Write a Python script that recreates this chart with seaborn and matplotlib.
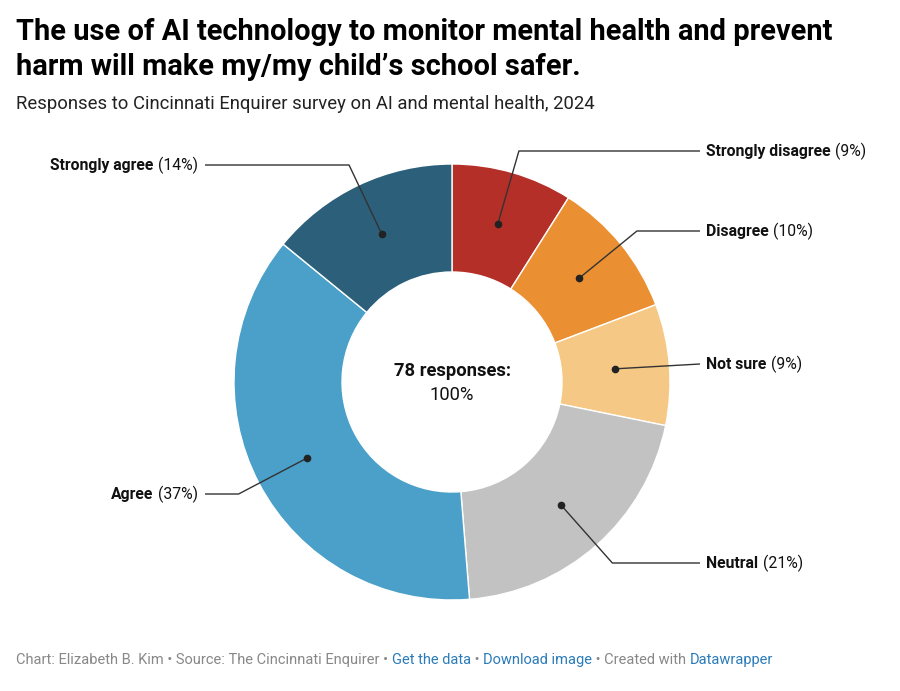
import numpy as np
import matplotlib
matplotlib.use("Agg")
import matplotlib.pyplot as plt
import seaborn as sns

# ---- data ----
categories = ["Strongly disagree", "Disagree", "Not sure", "Neutral", "Agree", "Strongly agree"]
counts = [7, 8, 7, 16, 29, 11]
pct_labels = ["9%", "10%", "9%", "21%", "37%", "14%"]
total_responses = 78

# ---- style ----
colors = ["#b42f28", "#eb9032", "#f5c985", "#c2c2c2", "#4aa0c9", "#2c5f7a"]
sides = ["right", "right", "right", "right", "left", "left"]
label_y = [151, 231, 364, 563, 494, 165]  # pixel rows of the labels (layout)

sns.set_theme(style="white")
plt.rcParams["font.family"] = ["Roboto", "DejaVu Sans"]

W, H = 900, 691
fig = plt.figure(figsize=(W / 100, H / 100), dpi=100)
ax = fig.add_axes([0, 0, 1, 1])

cx, cy = 452, H - 382
R_out, R_in = 218, 110

ax.pie(counts, colors=colors, startangle=90, counterclock=False,
       center=(cx, cy), radius=R_out, frame=True,
       wedgeprops=dict(width=R_out - R_in, edgecolor="white", linewidth=1.0))
ax.set_xlim(0, W)
ax.set_ylim(0, H)
ax.set_aspect("equal")
ax.axis("off")

frac = np.array(counts) / np.sum(counts)
cum = np.cumsum(frac)
mid = cum - frac / 2
r_mid = (R_out + R_in) / 2

LFS = 11.3
GAP = 4.5
line_col = "#333333"
fig.canvas.draw()
renderer = fig.canvas.get_renderer()
for i, cat in enumerate(categories):
    ang = mid[i] * 2 * np.pi
    dx, dy = np.sin(ang), np.cos(ang)  # clockwise from top, y up
    px, py = cx + r_mid * dx, cy + r_mid * dy
    ly = H - label_y[i]
    if abs(dy) > 0.2:
        t = (ly - py) / dy
        ex, ey = px + t * dx, ly
    else:
        ex, ey = None, ly
    if sides[i] == "right":
        xend, tx, ha = 700, 706, "left"
    else:
        xend, tx, ha = 205, 198, "right"
    if ex is None:
        ax.plot([px, xend], [py, ly], color=line_col, lw=1, solid_capstyle="butt")
    else:
        ax.plot([px, ex, xend], [py, ey, ly], color=line_col, lw=1, solid_capstyle="butt")
    ax.plot([px], [py], "o", color="#222222", ms=4.5)
    if ha == "left":
        t1 = ax.text(tx, ly, cat, fontsize=LFS, fontweight="bold", ha="left", va="center", color="#111111")
        bb = t1.get_window_extent(renderer=renderer)
        ax.text(bb.x1 + GAP, ly, f"({pct_labels[i]})", fontsize=LFS, ha="left", va="center", color="#111111")
    else:
        t2 = ax.text(tx, ly, f"({pct_labels[i]})", fontsize=LFS, ha="right", va="center", color="#111111")
        bb = t2.get_window_extent(renderer=renderer)
        ax.text(bb.x0 - GAP, ly, cat, fontsize=LFS, fontweight="bold", ha="right", va="center", color="#111111")

# center text
ax.text(cx, H - 371, f"{total_responses} responses:", fontsize=13.2, fontweight="bold",
        ha="center", va="center", color="#111111")
ax.text(cx, H - 395, "100%", fontsize=13.2, ha="center", va="center", color="#111111")

# title & subtitle
fig.text(16 / W, 1 - 40 / H, "The use of AI technology to monitor mental health and prevent",
         fontsize=20.9, fontweight="bold", ha="left", va="baseline", color="#000000")
fig.text(16 / W, 1 - 75 / H, "harm will make my/my child\u2019s school safer.",
         fontsize=20.9, fontweight="bold", ha="left", va="baseline", color="#000000")
fig.text(16 / W, 1 - 109 / H, "Responses to Cincinnati Enquirer survey on AI and mental health, 2024",
         fontsize=13.3, ha="left", va="baseline", color="#222222")

# footer
parts = [("Chart: Elizabeth B. Kim \u2022 Source: The Cincinnati Enquirer \u2022 ", "#888888"),
         ("Get the data", "#2b7bb9"),
         (" \u2022 ", "#888888"),
         ("Download image", "#2b7bb9"),
         (" \u2022 Created with ", "#888888"),
         ("Datawrapper", "#2b7bb9")]
x = 16
for txt, col in parts:
    t = fig.text(x / W, 1 - 664 / H, txt, fontsize=10.5, ha="left", va="baseline", color=col)
    bb = t.get_window_extent(renderer=renderer)
    x = bb.x1

fig.savefig("out.png", dpi=100, facecolor="white")
